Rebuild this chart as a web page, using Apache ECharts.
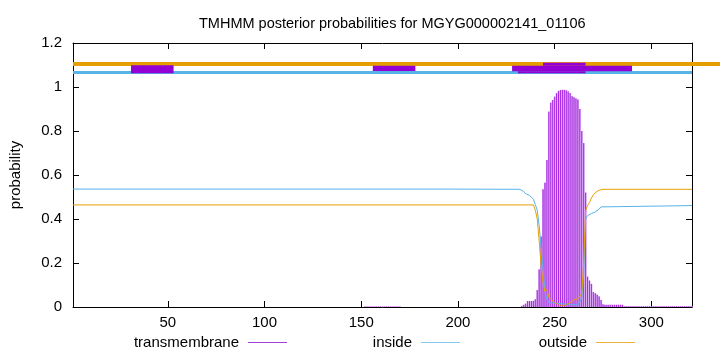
<!DOCTYPE html>
<html>
<head>
<meta charset="utf-8">
<script src="https://cdn.jsdelivr.net/npm/echarts@6/dist/echarts.min.js"></script>
<style>html,body{margin:0;padding:0;background:#fff}#c{width:720px;height:352px}</style>
</head>
<body>
<div id="c"></div>
<script>
// ---- data ----
const titleText = 'TMHMM posterior probabilities for MGYG000002141_01106';
const seqStart = 1;
const seqEnd = 321;
const xTickValues = [50, 100, 150, 200, 250, 300];
const yTickStep = 0.2;
const yMax = 1.2;

// transmembrane posterior (impulses), consecutive residues from segment start
const tmSeg1Start = 152;
const tmSeg1Values = [0.002,0.002,0.002,0.002,0.002,0.002,0.002,0.002,0.002,0.002,0.002,0.002,0.002,0.002,0.002,0.002,0.002,0.002,0.002];
const tmSeg2Start = 233;
const tmSeg2Values = [
  0.005,0.01,0.015,0.027,0.027,0.027,0.028,0.035,0.077,0.171,
  0.32,0.535,0.565,0.668,0.888,0.929,0.941,0.956,0.972,0.982,
  0.986,0.987,0.987,0.985,0.98,0.972,0.958,0.953,0.948,0.943,
  0.90,0.80,0.745,0.52,0.138,0.12,0.105,0.068,0.062,0.056,
  0.048,0.032,0.012,
  0.01,0.01,0.01,0.01,0.01,0.01,0.01,0.01,0.01,0.01,
  0.003,0.003,0.003,0.003,0.003,0.003,0.003,0.003,0.003,0.003,0.003,0.003,
  0.003,0.003,0.003,0.003,0.003,0.003,0.003,0.003,0.003,0.003,0.003,0.003,
  0.003,0.003,0.003,0.003,0.003,0.003,0.003,0.003,0.003,0.003,0.003,0.003
];

// inside probability
const insideX = [1,195,196,232,233,234,235,236,237,238,239,240,241,242,243,244,245,246,247,248,262,263,264,265,266,267,268,269,270,271,272,273,274,275,321];
const insideY = [0.536,0.536,0.535,0.535,0.533,0.525,0.515,0.51,0.508,0.505,0.49,0.465,0.44,0.37,0.27,0.17,0.07,0.035,0.02,0.012,0.008,0.01,0.04,0.15,0.40,0.415,0.421,0.425,0.43,0.432,0.436,0.445,0.455,0.459,0.461];

// outside probability
const outsideX = [1,239,240,241,242,243,244,245,246,247,248,249,250,251,252,253,254,255,256,257,258,259,260,261,262,263,264,265,266,267,268,269,270,271,272,273,274,275,321];
const outsideY = [0.464,0.464,0.44,0.40,0.30,0.19,0.11,0.07,0.08,0.045,0.035,0.028,0.02,0.015,0.01,0.007,0.005,0.006,0.01,0.015,0.02,0.028,0.033,0.036,0.038,0.042,0.06,0.20,0.44,0.46,0.475,0.495,0.51,0.52,0.527,0.531,0.533,0.535,0.535];

// topology bands drawn above the plot
const topoKind = ['outside','inside','tm','tm','tm','tm','tm'];
const topoX0 = [1, 1, 31, 156, 228, 244, 231];
const topoX1 = [336, 321, 53, 178, 290, 266, 266];
const topoY0 = [1.0955, 1.0591, 1.0623, 1.0727, 1.0714, 1.0968, 1.0623];
const topoY1 = [1.1136, 1.0727, 1.0986, 1.0968, 1.0968, 1.1105, 1.0714];

const legendNames = ['transmembrane', 'inside', 'outside'];

// ---- build ----
const tmData = [];
tmSeg1Values.forEach((v, i) => tmData.push([tmSeg1Start + i, v]));
tmSeg2Values.forEach((v, i) => tmData.push([tmSeg2Start + i, v]));
const insideData = insideX.map((x, i) => [x, insideY[i]]);
const outsideData = outsideX.map((x, i) => [x, outsideY[i]]);
const topoData = topoKind.map((k, i) => [topoX0[i], topoX1[i], topoY0[i], topoY1[i], k]);

const colTM = '#9400d3', colTMLine = '#a52be0', colTMFill = '#d7a0f0';
const colIn = '#56b4e9', colOut = '#e69f00';
const legendColors = ['#a040d8', '#86c8ee', '#ecb340'];
const topoColor = {outside: colOut, inside: colIn, tm: colTM};
const FONT = 'Liberation Sans';

const chart = echarts.init(document.getElementById('c'), null, {renderer: 'canvas'});
const axisCommon = {
  axisLine: {show: true, onZero: false, lineStyle: {color: '#000', width: 1}},
  splitLine: {show: false}
};
chart.setOption({
  animation: false,
  textStyle: {fontFamily: FONT},
  title: {text: titleText, left: 194, top: 11,
    textStyle: {fontSize: 14.5, fontWeight: 'normal', color: '#000', fontFamily: FONT}},
  grid: {left: 73, right: 28, top: 43, bottom: 45, containLabel: false},
  xAxis: [
    Object.assign({type: 'value', min: seqStart, max: seqEnd, position: 'bottom',
      axisTick: {show: true, inside: true, length: 6, customValues: xTickValues, lineStyle: {color: '#000'}},
      axisLabel: {show: true, customValues: xTickValues, fontSize: 15, color: '#000', margin: 8, fontFamily: FONT}}, axisCommon),
    Object.assign({type: 'value', min: seqStart, max: seqEnd, position: 'top',
      axisTick: {show: true, inside: true, length: 6, customValues: xTickValues, lineStyle: {color: '#000'}},
      axisLabel: {show: false}}, axisCommon)
  ],
  yAxis: [
    Object.assign({type: 'value', min: 0, max: yMax, interval: yTickStep, position: 'left',
      name: 'probability', nameLocation: 'middle', nameGap: 50, nameRotate: 90,
      nameTextStyle: {fontSize: 15, color: '#000', fontFamily: FONT},
      axisTick: {show: true, inside: true, length: 6, lineStyle: {color: '#000'}},
      axisLabel: {fontSize: 15, color: '#000', margin: 11, fontFamily: FONT}}, axisCommon),
    Object.assign({type: 'value', min: 0, max: yMax, interval: yTickStep, position: 'right',
      axisTick: {show: true, inside: true, length: 6, lineStyle: {color: '#000'}},
      axisLabel: {show: false}}, axisCommon)
  ],
  legend: legendNames.map((n, i) => ({
    data: [{name: n, itemStyle: {color: legendColors[i], borderWidth: 0}, lineStyle: {color: legendColors[i], width: 0}}],
    right: [428, 255, 80][i], top: 330, align: 'right', icon: 'rect',
    itemWidth: 39, itemHeight: 1.2, selectedMode: false,
    itemStyle: {color: legendColors[i], borderWidth: 0},
    textStyle: {fontSize: 15, color: '#000', fontFamily: FONT, padding: [0, 4, 0, 0]}
  })),
  series: [
    {
      name: 'transmembrane', type: 'custom', xAxisIndex: 0, yAxisIndex: 0,
      itemStyle: {color: colTM}, data: tmData, z: 2,
      renderItem: function (params, api) {
        const x = api.value(0), v = api.value(1);
        const a = api.coord([x - 0.5, v]), b = api.coord([x + 0.5, 0]);
        const t = api.coord([x, v]), o = api.coord([x, 0]);
        return {type: 'group', children: [
          {type: 'rect', shape: {x: a[0], y: a[1], width: b[0] - a[0], height: b[1] - a[1]}, style: {fill: colTMFill}},
          {type: 'line', shape: {x1: t[0], y1: t[1], x2: o[0], y2: o[1]}, style: {stroke: colTMLine, lineWidth: 1}}
        ]};
      }
    },
    {
      name: 'inside', type: 'line', data: insideData, showSymbol: false, symbol: 'none', z: 3,
      itemStyle: {color: colIn}, lineStyle: {color: colIn, width: 1}
    },
    {
      name: 'outside', type: 'line', data: outsideData, showSymbol: false, symbol: 'none', z: 4,
      itemStyle: {color: colOut}, lineStyle: {color: colOut, width: 1}
    },
    {
      name: 'topology', type: 'custom', data: topoData, clip: false, z: 5,
      renderItem: function (params, api) {
        const p0 = api.coord([api.value(0), api.value(3)]);
        const p1 = api.coord([api.value(1), api.value(2)]);
        const k = topoData[params.dataIndex][4];
        return {type: 'rect', shape: {x: p0[0], y: p0[1], width: p1[0] - p0[0], height: p1[1] - p0[1]},
          style: {fill: topoColor[k]}};
      }
    }
  ]
});
</script>
</body>
</html>
